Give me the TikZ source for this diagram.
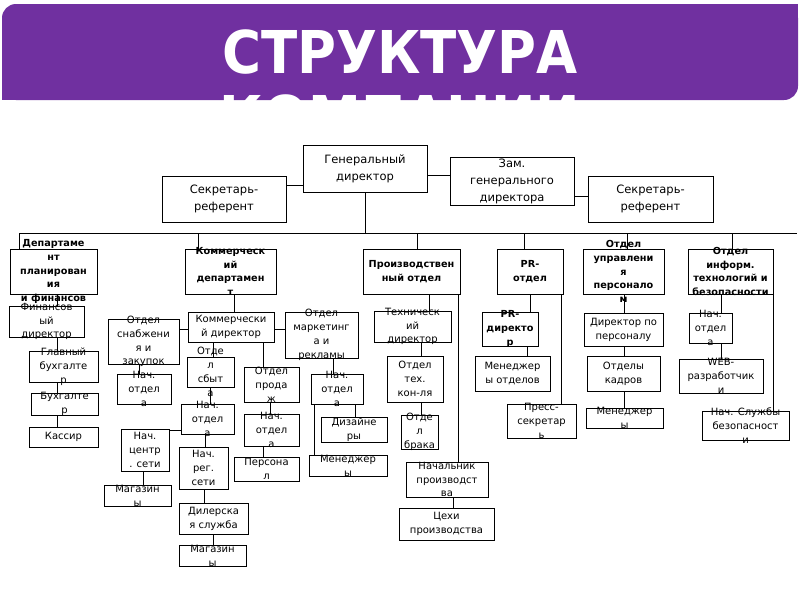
\documentclass[tikz,border=0pt]{standalone}
\usepackage{fontspec}
\setmainfont{DejaVu Sans}
\newfontfamily\titlefont[FakeStretch=0.9]{DejaVu Sans}
\definecolor{titlepurple}{RGB}{112,48,160}
\tikzset{
  boxst/.style={draw=black, line width=0.9pt, inner sep=0pt, outer sep=0pt},
  txt/.style={align=center, inner sep=0pt, font=\fontsize{10}{13.8}\selectfont},
  btxt/.style={align=center, inner sep=0pt, font=\fontsize{9.7}{13.8}\selectfont\bfseries},
  toptxt/.style={align=center, inner sep=0pt, font=\fontsize{11.5}{17}\selectfont},
  conn/.style={draw=black, line width=0.9pt},
  titletxt/.style={font=\titlefont\bfseries\fontsize{59}{60}\selectfont, text=white, anchor=base, inner sep=0pt}
}
\newcommand{\mybox}[7]{%
  \node[boxst, minimum width={#4pt-#2pt}, minimum height={#5pt-#3pt}] (#1) at ({(#2+#4)/2},{(#3+#5)/2}) {};
  \node[#6] (#1-t) at (#1.center) {#7};}
\begin{document}
\begin{tikzpicture}[x=1pt,y=-1pt]
\useasboundingbox (0,0) rectangle (800,600);
\fill[white] (0,0) rectangle (800,600);
% title band
\fill[titlepurple, rounded corners=14pt] (2,4) rectangle (798,100);
\fill[titlepurple] (760,4) rectangle (798,40);
\fill[titlepurple] (2,60) rectangle (40,100);
\begin{scope}
  \clip (2,4) rectangle (798,100);
  \node[titletxt] (title1) at (400,73) {СТРУКТУРА};
  \node[titletxt] (title2) at (400,138) {КОМПАНИИ};
\end{scope}
% top level
\mybox{gd}{303}{145}{427}{192}{toptxt}{Генеральный\\директор}
\mybox{sec1}{162}{176}{286}{222}{toptxt}{Секретарь-\\референт}
\mybox{zam}{450}{157}{574}{205}{toptxt}{Зам.\\генерального\\директора}
\mybox{sec2}{588}{176}{713}{222}{toptxt}{Секретарь-\\референт}
% departments
\mybox{d1}{10}{249}{97}{294}{btxt}{Департаме\\нт\\планирован\\ия\\и финансов}
\mybox{d2}{185}{249}{276}{294}{btxt}{Коммерческ\\ий\\департамен\\т}
\mybox{d3}{363}{249}{460}{294}{btxt}{Производствен\\ный отдел}
\mybox{d4}{497}{249}{563}{294}{btxt}{PR-\\отдел}
\mybox{d5}{583}{249}{664}{294}{btxt}{Отдел\\управлени\\я\\персонало\\м}
\mybox{d6}{688}{249}{773}{294}{btxt}{Отдел\\информ.\\технологий и\\безопасности}
% finance
\mybox{fin}{9}{306}{84}{337}{txt}{Финансов\\ый\\директор}
\mybox{gb}{29}{351}{98}{382}{txt}{Главный\\бухгалте\\р}
\mybox{buh}{31}{393}{98}{415}{txt}{Бухгалте\\р}
\mybox{kas}{29}{427}{98}{447}{txt}{Кассир}
% commerce
\mybox{kd}{188}{312}{274}{342}{txt}{Коммерчески\\й директор}
\mybox{sn}{108}{319}{179}{364}{txt}{Отдел\\снабжени\\я и\\закупок}
\mybox{sn1}{117}{374}{171}{404}{txt}{Нач.\\отдел\\а}
\mybox{sb}{187}{357}{234}{387}{txt}{Отде\\л\\сбыт\\а}
\mybox{sb1}{181}{404}{234}{434}{txt}{Нач.\\отдел\\а}
\mybox{pr}{244}{367}{299}{402}{txt}{Отдел\\прода\\ж}
\mybox{pr1}{244}{414}{299}{446}{txt}{Нач.\\отдел\\а}
\mybox{pers}{234}{457}{299}{481}{txt}{Персона\\л}
\mybox{cs}{121}{429}{169}{471}{txt}{Нач.\\центр\\. сети}
\mybox{mag1}{104}{485}{171}{506}{txt}{Магазин\\ы}
\mybox{rs}{179}{447}{228}{489}{txt}{Нач.\\рег.\\сети}
\mybox{dil}{179}{503}{248}{534}{txt}{Дилерска\\я служба}
\mybox{mag2}{179}{545}{246}{566}{txt}{Магазин\\ы}
\mybox{mk}{285}{312}{358}{358}{txt}{Отдел\\маркетинг\\а и\\рекламы}
\mybox{mk1}{311}{374}{363}{404}{txt}{Нач.\\отдел\\а}
\mybox{diz}{321}{417}{387}{442}{txt}{Дизайне\\ры}
\mybox{men1}{309}{455}{387}{476}{txt}{Менеджер\\ы}
% production
\mybox{td}{374}{311}{451}{342}{txt}{Техническ\\ий\\директор}
\mybox{tk}{387}{356}{443}{402}{txt}{Отдел\\тех.\\кон-ля}
\mybox{br}{401}{415}{438}{449}{txt}{Отде\\л\\брака}
\mybox{np}{406}{462}{488}{497}{txt}{Начальник\\производст\\ва}
\mybox{ceh}{399}{508}{494}{540}{txt}{Цехи\\производства}
% PR
\mybox{prd}{482}{312}{538}{346}{btxt}{PR-\\директо\\р}
\mybox{mo}{475}{356}{550}{391}{txt}{Менеджер\\ы отделов}
\mybox{ps}{507}{404}{576}{438}{txt}{Пресс-\\секретар\\ь}
% personnel
\mybox{dp}{584}{313}{663}{346}{txt}{Директор по\\персоналу}
\mybox{ok}{587}{356}{660}{391}{txt}{Отделы\\кадров}
\mybox{men2}{586}{408}{663}{428}{txt}{Менеджер\\ы}
% IT
\mybox{io}{689}{313}{732}{343}{txt}{Нач.\\отдел\\а}
\mybox{web}{679}{359}{763}{393}{txt}{WEB-\\разработчик\\и}
\mybox{sb2}{702}{411}{789}{440}{txt}{Нач. Службы\\безопасност\\и}
% connectors top
\coordinate (busL) at (19,233);
\coordinate (busR) at (797,233);
\draw[conn] (sec1.east |- 0,185) -- (gd.west |- 0,185);
\draw[conn] (gd.east |- 0,175) -- (zam.west |- 0,175);
\draw[conn] (zam.east |- 0,196) -- (sec2.west |- 0,196);
\draw[conn] (gd.south -| 365,0) -- (busL -| 365,0);
\draw[conn] (busL) -- (busR);
\draw[conn] (busL) -- (d1.north -| 19,0);
\draw[conn] (busL -| 198,0) -- (d2.north -| 198,0);
\draw[conn] (busL -| 417,0) -- (d3.north -| 417,0);
\draw[conn] (busL -| 524,0) -- (d4.north -| 524,0);
\draw[conn] (busL -| 627,0) -- (d5.north -| 627,0);
\draw[conn] (busL -| 732,0) -- (d6.north -| 732,0);
% finance
\draw[conn] (d1.south -| 57,0) -- (fin.north -| 57,0);
\draw[conn] (fin.south -| 57,0) -- (gb.north -| 57,0);
\draw[conn] (gb.south -| 57,0) -- (buh.north -| 57,0);
\draw[conn] (buh.south -| 57,0) -- (kas.north -| 57,0);
% commerce
\draw[conn] (d2.south -| 234,0) -- (kd.north -| 234,0);
\draw[conn] (kd.west |- 0,329) -- (sn.east |- 0,329);
\draw[conn] (sn.south -| 139,0) -- (sn1.north -| 139,0);
\draw[conn] (kd.south -| 213,0) -- (sb.north -| 213,0);
\draw[conn] (sb.south -| 210,0) -- (sb1.north -| 210,0);
\draw[conn] (kd.south -| 263,0) -- (pr.north -| 263,0);
\draw[conn] (pr.south -| 270,0) -- (pr1.north -| 270,0);
\draw[conn] (pr1.south -| 263,0) -- (pers.north -| 263,0);
\draw[conn] (sb1.west |- 0,430) -- (cs.east |- 0,430);
\draw[conn] (cs.south -| 143,0) -- (mag1.north -| 143,0);
\draw[conn] (sb1.south -| 205,0) -- (rs.north -| 205,0);
\draw[conn] (rs.south -| 204,0) -- (dil.north -| 204,0);
\draw[conn] (dil.south -| 213,0) -- (mag2.north -| 213,0);
\draw[conn] (kd.east |- 0,329) -- (mk.west |- 0,329);
\draw[conn] (mk.south -| 333,0) -- (mk1.north -| 333,0);
\draw[conn] (mk1.south -| 355,0) -- (diz.north -| 355,0);
\draw[conn] (mk1.south -| 314,0) -- (men1.north -| 314,0);
% production
\draw[conn] (d3.south -| 429,0) -- (td.north -| 429,0);
\draw[conn] (td.south -| 421,0) -- (tk.north -| 421,0);
\draw[conn] (tk.south -| 421,0) -- (br.north -| 421,0);
\draw[conn] (d3.south -| 458,0) -- (np.north -| 458,0);
\draw[conn] (np.south -| 453,0) -- (ceh.north -| 453,0);
% PR
\draw[conn] (d4.south -| 530,0) -- (prd.north -| 530,0);
\draw[conn] (prd.south -| 527,0) -- (mo.north -| 527,0);
\draw[conn] (d4.south -| 561,0) -- (ps.north -| 561,0);
% personnel
\draw[conn] (d5.south -| 624,0) -- (dp.north -| 624,0);
\draw[conn] (dp.south -| 624,0) -- (ok.north -| 624,0);
\draw[conn] (ok.south -| 624,0) -- (men2.north -| 624,0);
% IT
\draw[conn] (d6.south -| 721,0) -- (io.north -| 721,0);
\draw[conn] (io.south -| 721,0) -- (web.north -| 721,0);
\draw[conn] (d6.south -| 773,0) -- (sb2.north -| 773,0);
\end{tikzpicture}
\end{document}
